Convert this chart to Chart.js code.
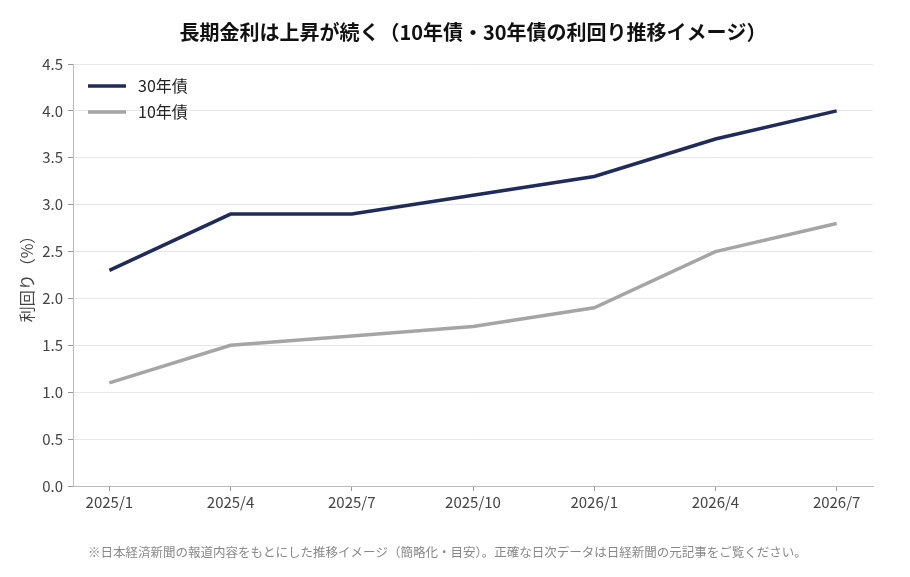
<!DOCTYPE html>
<html lang="ja">
  <head>
    <meta charset="utf-8" />
    <title>長期金利</title>
    <style>
      * { margin: 0; padding: 0; }
      body { background: #fff; }
    </style>
  </head>
  <body>
    <canvas id="myChart" width="910" height="577"></canvas>
    <script src="https://cdn.jsdelivr.net/npm/chart.js/dist/chart.umd.min.js"></script>
    <script>
      const months = ["2025/1", "2025/4", "2025/7", "2025/10", "2026/1", "2026/4", "2026/7"];
      const yield30 = [2.3, 2.9, 2.9, 3.1, 3.3, 3.7, 4.0];
      const yield10 = [1.1, 1.5, 1.6, 1.7, 1.9, 2.5, 2.8];
      const titleText = "長期金利は上昇が続く（10年債・30年債の利回り推移イメージ）";
      const noteText = "※日本経済新聞の報道内容をもとにした推移イメージ（簡略化・目安）。正確な日次データは日経新聞の元記事をご覧ください。";
      const FONT = '"Noto Sans CJK JP", "Noto Sans", sans-serif';

      const toPoints = (arr) => arr.map((v, i) => ({ x: i, y: v }));

      // title, footnote and in-plot legend
      const decor = {
        id: "decor",
        afterDraw(chart) {
          const ctx = chart.ctx;
          const area = chart.chartArea;
          ctx.save();
          ctx.fillStyle = "#111";
          ctx.font = "bold 20px " + FONT;
          ctx.textAlign = "center";
          ctx.textBaseline = "middle";
          ctx.fillText(titleText, (area.left + area.right) / 2, 32);

          ctx.fillStyle = "#888";
          ctx.font = "12.5px " + FONT;
          ctx.textAlign = "left";
          ctx.fillText(noteText, 88, 552);

          ctx.font = "16px " + FONT;
          chart.data.datasets.forEach((ds, i) => {
            const y = 86 + i * 26;
            ctx.strokeStyle = ds.borderColor;
            ctx.lineWidth = 3.5;
            ctx.beginPath();
            ctx.moveTo(88, y);
            ctx.lineTo(126, y);
            ctx.stroke();
            ctx.fillStyle = "#222";
            ctx.fillText(ds.label, 138, y);
          });
          ctx.restore();
        },
      };

      const data = {
        datasets: [
          {
            label: "30年債",
            data: toPoints(yield30),
            borderColor: "#1f2b5b",
            borderWidth: 3.5,
            pointRadius: 0,
            tension: 0,
          },
          {
            label: "10年債",
            data: toPoints(yield10),
            borderColor: "#a5a5a5",
            borderWidth: 3.5,
            pointRadius: 0,
            tension: 0,
          },
        ],
      };

      const config = {
        type: "line",
        data,
        plugins: [decor],
        options: {
          responsive: false,
          animation: false,
          layout: { padding: { top: 64, right: 37, left: 0, bottom: 0 } },
          scales: {
            x: {
              type: "linear",
              min: -0.3,
              max: 6.3,
              afterBuildTicks(scale) {
                scale.ticks = months.map((m, i) => ({ value: i }));
              },
              afterFit(scale) { scale.height = 91; },
              ticks: {
                callback: (v) => months[v],
                color: "#444",
                font: { family: FONT, size: 15 },
                padding: 2,
                maxRotation: 0,
              },
              grid: { drawOnChartArea: false, tickLength: 5, tickColor: "#999" },
              border: { color: "#bbb" },
            },
            y: {
              min: 0,
              max: 4.5,
              afterFit(scale) { scale.width = 73; },
              ticks: {
                stepSize: 0.5,
                callback: (v) => v.toFixed(1),
                color: "#444",
                font: { family: FONT, size: 15 },
                padding: 5,
              },
              grid: { color: "#e6e6e6", tickLength: 5, tickColor: "#999" },
              border: { color: "#bbb" },
              title: {
                display: true,
                text: "利回り（%）",
                color: "#444",
                font: { family: FONT, size: 16 },
                padding: { top: 17, bottom: 0 },
              },
            },
          },
          plugins: {
            legend: { display: false },
            tooltip: { enabled: false },
          },
        },
      };

      new Chart(document.getElementById("myChart"), config);
    </script>
  </body>
</html>
